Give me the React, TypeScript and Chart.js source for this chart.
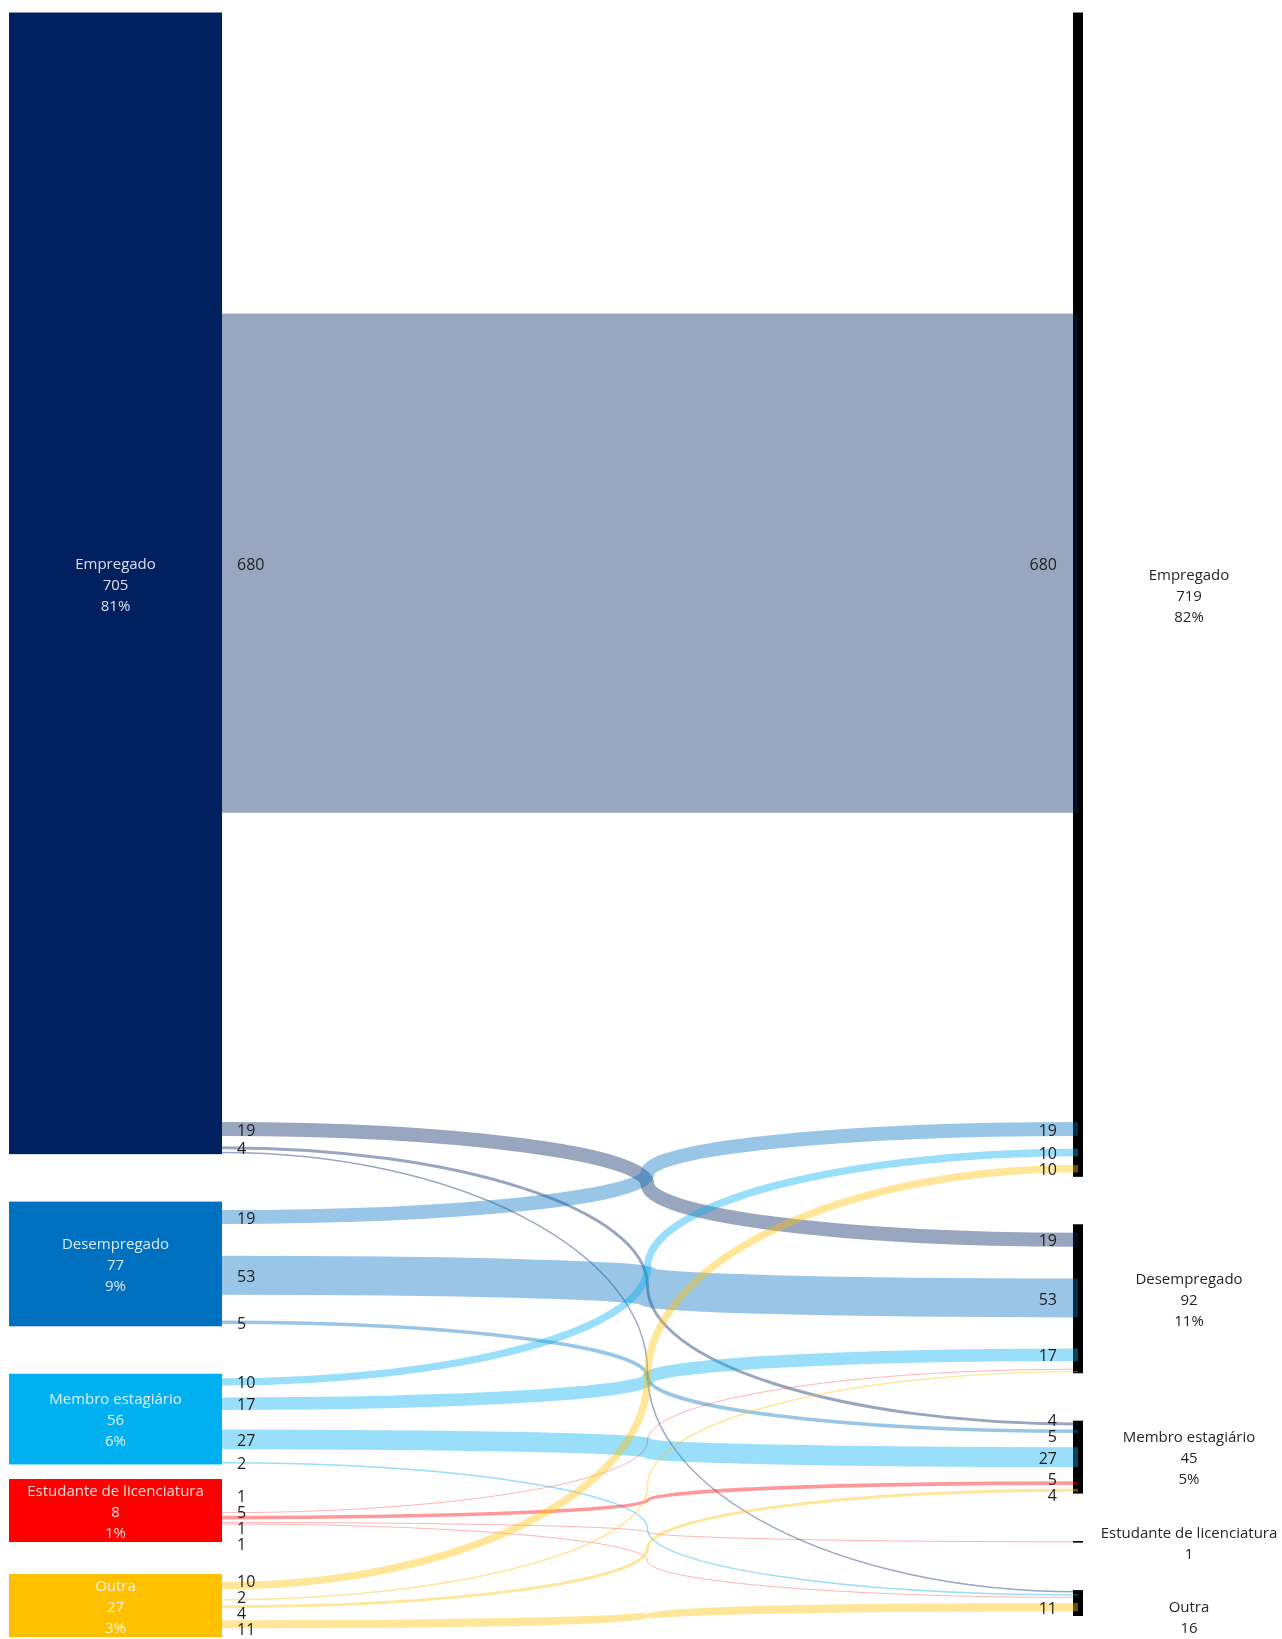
import { useEffect, useRef } from 'react';
import { Chart, registerables } from 'chart.js';

Chart.register(...registerables);

// ---- data ----
const nodeNames = ['Empregado', 'Desempregado', 'Membro estagiário', 'Estudante de licenciatura', 'Outra'];
const nodeColors = ['#002060', '#0070C0', '#00B0F0', '#FF0000', '#FFC000'];
const linkSources = [0, 0, 0, 0, 1, 1, 1, 2, 2, 2, 2, 3, 3, 3, 3, 4, 4, 4, 4];
const linkTargets = [0, 1, 2, 4, 0, 1, 2, 0, 1, 2, 4, 1, 2, 3, 4, 0, 1, 2, 4];
const linkValues = [680, 19, 4, 2, 19, 53, 5, 10, 17, 27, 2, 1, 5, 1, 1, 10, 2, 4, 11];

// ---- style constants ----
const FONT = '"Open Sans", "Noto Sans", sans-serif';
const NODE_FONT = '15px ' + FONT;
const LINK_FONT = '16px ' + FONT;
const TEXT_DY = 2;
const GAP_UNITS = 29.3;
const LINK_RATIO = 0.4535;
const LEFT_W = 213;
const RIGHT_W = 10;
const LINE_H = 21;
const BLOCK_GAP = 32;
const LABEL_MIN_GAP = 16;
const LINK_ALPHA = 0.4;

const sum = (a: number[]) => a.reduce((s, v) => s + v, 0);
const grandTotal = sum(linkValues);
const srcTotals = nodeNames.map((_, i) => sum(linkValues.filter((_, k) => linkSources[k] === i)));
const tgtTotals = nodeNames.map((_, i) => sum(linkValues.filter((_, k) => linkTargets[k] === i)));
const yMax = Math.max(sum(srcTotals), sum(tgtTotals)) + GAP_UNITS * (nodeNames.length - 1);

function starts(tot: number[]) {
  const out: number[] = [];
  let acc = 0;
  tot.forEach((t) => {
    out.push(acc);
    acc += t + GAP_UNITS;
  });
  return out;
}

function rgba(hex: string, a: number) {
  const h = hex.replace('#', '');
  const r = parseInt(h.slice(0, 2), 16);
  const g = parseInt(h.slice(2, 4), 16);
  const b = parseInt(h.slice(4, 6), 16);
  return `rgba(${r},${g},${b},${a})`;
}

function nodeLines(i: number, tot: number) {
  const pct = Math.round((tot / grandTotal) * 100);
  const l = [nodeNames[i], String(tot)];
  if (pct > 0) l.push(pct + '%');
  return l;
}

// symmetric relaxation of label centres, keeping a minimal spacing
function relax(anchors: number[], halfH: number[], gap: number) {
  const c = anchors.slice();
  for (let it = 0; it < 300; it++) {
    let moved = false;
    for (let i = 0; i < c.length - 1; i++) {
      const ov = c[i] + halfH[i] + gap + halfH[i + 1] - c[i + 1];
      if (ov > 0.01) {
        c[i] -= ov / 2;
        c[i + 1] += ov / 2;
        moved = true;
      }
    }
    if (!moved) break;
  }
  return c;
}

const sankeyPlugin = {
  id: 'sankeyDraw',
  afterDatasetsDraw(chart: any) {
    const ctx: CanvasRenderingContext2D = chart.ctx;
    const xs = chart.scales.x;
    const ys = chart.scales.y;
    const Y = (u: number) => ys.getPixelForValue(u);
    const xLeft = xs.getPixelForValue(0);
    const xRight = xs.getPixelForValue(1);
    const linkX0 = xLeft + LEFT_W;
    const linkX1 = xRight - RIGHT_W + 5;
    const xm = (linkX0 + xRight - RIGHT_W) / 2;
    const sS = starts(srcTotals);
    const tS = starts(tgtTotals);
    const n = nodeNames.length;

    // left label blocks (inside boxes) with symmetric relaxation
    const leftLines = srcTotals.map((t, i) => nodeLines(i, t));
    const leftNomC = sS.map((s, i) => (Y(s) + Y(s + srcTotals[i])) / 2);
    const leftC = relax(leftNomC, leftLines.map((l) => (l.length * LINE_H) / 2), BLOCK_GAP);
    const leftBox = srcTotals.map((t, i) => {
      const top = Y(sS[i]);
      const bot = Y(sS[i] + t);
      const blk = leftLines[i].length * LINE_H;
      if (bot - top >= blk) return { top, bot, expanded: false, down: false };
      return { top: leftC[i] - blk / 2, bot: leftC[i] + blk / 2, expanded: true, down: leftC[i] > leftNomC[i] };
    });
    const leftCenters = leftBox.map((b, i) => (b.expanded ? leftC[i] : (b.top + b.bot) / 2));

    // right label blocks (outside), pushed downwards
    const rightLines = tgtTotals.map((t, i) => nodeLines(i, t));
    const rightC = tS.map((s, i) => (Y(s) + Y(s + tgtTotals[i])) / 2);
    const rightH = rightLines.map((l) => (l.length * LINE_H) / 2);
    for (let i = 0; i < n - 1; i++) {
      const need = rightC[i] + rightH[i] + BLOCK_GAP + rightH[i + 1];
      if (rightC[i + 1] < need) rightC[i + 1] = need;
    }

    // left nodes
    leftBox.forEach((b, i) => {
      ctx.fillStyle = nodeColors[i];
      ctx.fillRect(xLeft, b.top, LEFT_W, b.bot - b.top);
    });
    // right nodes
    tgtTotals.forEach((t, i) => {
      const top = Y(tS[i]);
      const bot = Y(tS[i] + t);
      ctx.fillStyle = '#000000';
      ctx.fillRect(xRight - RIGHT_W, top, RIGHT_W, Math.max(1.5, bot - top));
    });

    // link geometry
    const srcCum = new Array(n).fill(0);
    const tgtCum = new Array(n).fill(0);
    const links = linkValues.map((v, k) => {
      const s = linkSources[k];
      const t = linkTargets[k];
      const b = leftBox[s];
      const mid = srcCum[s] + v / 2;
      const y0 = b.down ? b.top + (mid / srcTotals[s]) * (b.bot - b.top) : Y(sS[s] + mid);
      const y1 = Y(tS[t] + tgtCum[t] + v / 2);
      srcCum[s] += v;
      tgtCum[t] += v;
      const w = Math.abs(Y(v * LINK_RATIO) - Y(0));
      return { s, t, v, y0, y1, w };
    });

    const K = 0.5523;
    links.forEach((l) => {
      const ym = (l.y0 + l.y1) / 2;
      ctx.beginPath();
      ctx.moveTo(linkX0, l.y0);
      ctx.bezierCurveTo(linkX0 + K * (xm - linkX0), l.y0, xm, ym - K * (ym - l.y0), xm, ym);
      ctx.bezierCurveTo(xm, ym + K * (l.y1 - ym), linkX1 - K * (linkX1 - xm), l.y1, linkX1, l.y1);
      ctx.strokeStyle = rgba(nodeColors[l.s], LINK_ALPHA);
      ctx.lineWidth = l.w;
      ctx.lineCap = 'butt';
      ctx.stroke();
    });

    // link labels
    ctx.font = LINK_FONT;
    ctx.fillStyle = '#1e1e1e';
    ctx.textBaseline = 'middle';
    for (let i = 0; i < n; i++) {
      const group = links.filter((l) => l.s === i && l.v / srcTotals[i] >= 0.005);
      const ys2 = relax(group.map((l) => l.y0), group.map(() => 0), LABEL_MIN_GAP);
      ctx.textAlign = 'left';
      group.forEach((l, j) => ctx.fillText(String(l.v), linkX0 + 15, ys2[j] + TEXT_DY));
    }
    for (let i = 0; i < n; i++) {
      const group = links.filter((l) => l.t === i && l.w >= 1.5);
      const ys2 = relax(group.map((l) => l.y1), group.map(() => 0), LABEL_MIN_GAP);
      ctx.textAlign = 'right';
      group.forEach((l, j) => ctx.fillText(String(l.v), xRight - RIGHT_W - 16, ys2[j] + TEXT_DY));
    }

    // node labels
    ctx.font = NODE_FONT;
    ctx.textAlign = 'center';
    leftLines.forEach((lines, i) => {
      const c = leftCenters[i];
      ctx.fillStyle = 'rgba(255,255,255,0.85)';
      lines.forEach((txt, j) => {
        ctx.fillText(txt, xLeft + LEFT_W / 2, c + (j - (lines.length - 1) / 2) * LINE_H + TEXT_DY);
      });
    });
    rightLines.forEach((lines, i) => {
      const c = rightC[i];
      ctx.fillStyle = '#262626';
      lines.forEach((txt, j) => {
        ctx.fillText(txt, xRight + 106, c + (j - (lines.length - 1) / 2) * LINE_H + TEXT_DY);
      });
    });
  },
};

export default function App() {
  const ref = useRef<HTMLCanvasElement>(null);
  useEffect(() => {
    const chart = new Chart(ref.current as HTMLCanvasElement, {
      type: 'scatter',
      data: { datasets: [] },
      options: {
        responsive: false,
        animation: false,
        devicePixelRatio: 1,
        layout: { padding: { left: 9, right: 199, top: 12.5, bottom: 23 } },
        scales: {
          x: { type: 'linear', display: false, min: 0, max: 1 },
          y: { type: 'linear', display: false, min: 0, max: yMax, reverse: true },
        },
        plugins: { legend: { display: false }, tooltip: { enabled: false } },
      },
      plugins: [sankeyPlugin],
    } as any);
    return () => chart.destroy();
  }, []);
  return (
    <canvas
      ref={ref}
      width={1282}
      height={1639}
      style={{ position: 'fixed', left: 0, top: 0, display: 'block', background: '#ffffff' }}
    />
  );
}
